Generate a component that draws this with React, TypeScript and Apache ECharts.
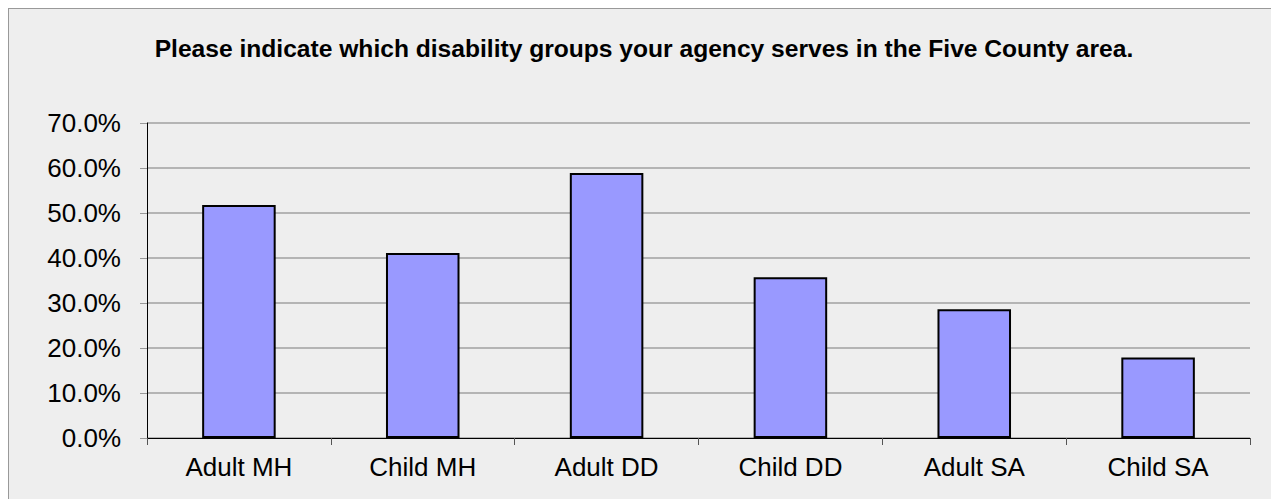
import React, { useEffect, useRef } from "react";
import * as echarts from "echarts";

const TITLE = "Please indicate which disability groups your agency serves in the Five County area.";
const categories = ["Adult MH", "Child MH", "Adult DD", "Child DD", "Adult SA", "Child SA"];
const percentServed = [51.8, 41.1, 58.9, 35.7, 28.6, 17.9];
const yMin = 0;
const yMax = 70;
const yStep = 10;

const FONT = "'Liberation Sans', Arial, Helvetica, sans-serif";

export default function App() {
  const ref = useRef<HTMLDivElement>(null);
  useEffect(() => {
    if (!ref.current) return;
    const chart = echarts.init(ref.current, undefined, { renderer: "svg" });
    chart.setOption({
      animation: false,
      backgroundColor: "#eeeeee",
      textStyle: { fontFamily: FONT },
      title: {
        text: TITLE,
        left: "center",
        top: 22,
        textStyle: { fontFamily: FONT, fontSize: 24.6, fontWeight: "bold", color: "#000" },
      },
      grid: { left: 138, right: 29, top: 114, bottom: 61, containLabel: false },
      xAxis: {
        type: "category",
        data: categories,
        boundaryGap: true,
        axisLine: { show: true, lineStyle: { color: "#000", width: 1 } },
        axisTick: { show: true, alignWithLabel: false, length: 7, lineStyle: { color: "#555" } },
        axisLabel: { color: "#000", fontSize: 26, fontFamily: FONT, margin: 16 },
      },
      yAxis: {
        type: "value",
        min: yMin,
        max: yMax,
        interval: yStep,
        axisLine: { show: true, lineStyle: { color: "#000", width: 1 } },
        axisTick: { show: true, length: 7, lineStyle: { color: "#999" } },
        splitLine: { show: true, lineStyle: { color: "#a0a0a0", width: 1.5 } },
        axisLabel: {
          color: "#000",
          fontSize: 26,
          fontFamily: FONT,
          margin: 26,
          formatter: (v: number) => v.toFixed(1) + "%",
        },
      },
      series: [
        {
          type: "bar",
          data: percentServed,
          barWidth: "40%",
          itemStyle: { color: "#9999ff", borderColor: "#000", borderWidth: 2 },
        },
      ],
    });
    return () => chart.dispose();
  }, []);
  return (
    <div
      style={{
        width: 1271,
        height: 491,
        boxSizing: "border-box",
        borderTop: "1px solid #999",
        borderLeft: "1px solid #999",
        background: "#eeeeee",
      }}
    >
      <div ref={ref} style={{ width: 1270, height: 490 }} />
    </div>
  );
}
